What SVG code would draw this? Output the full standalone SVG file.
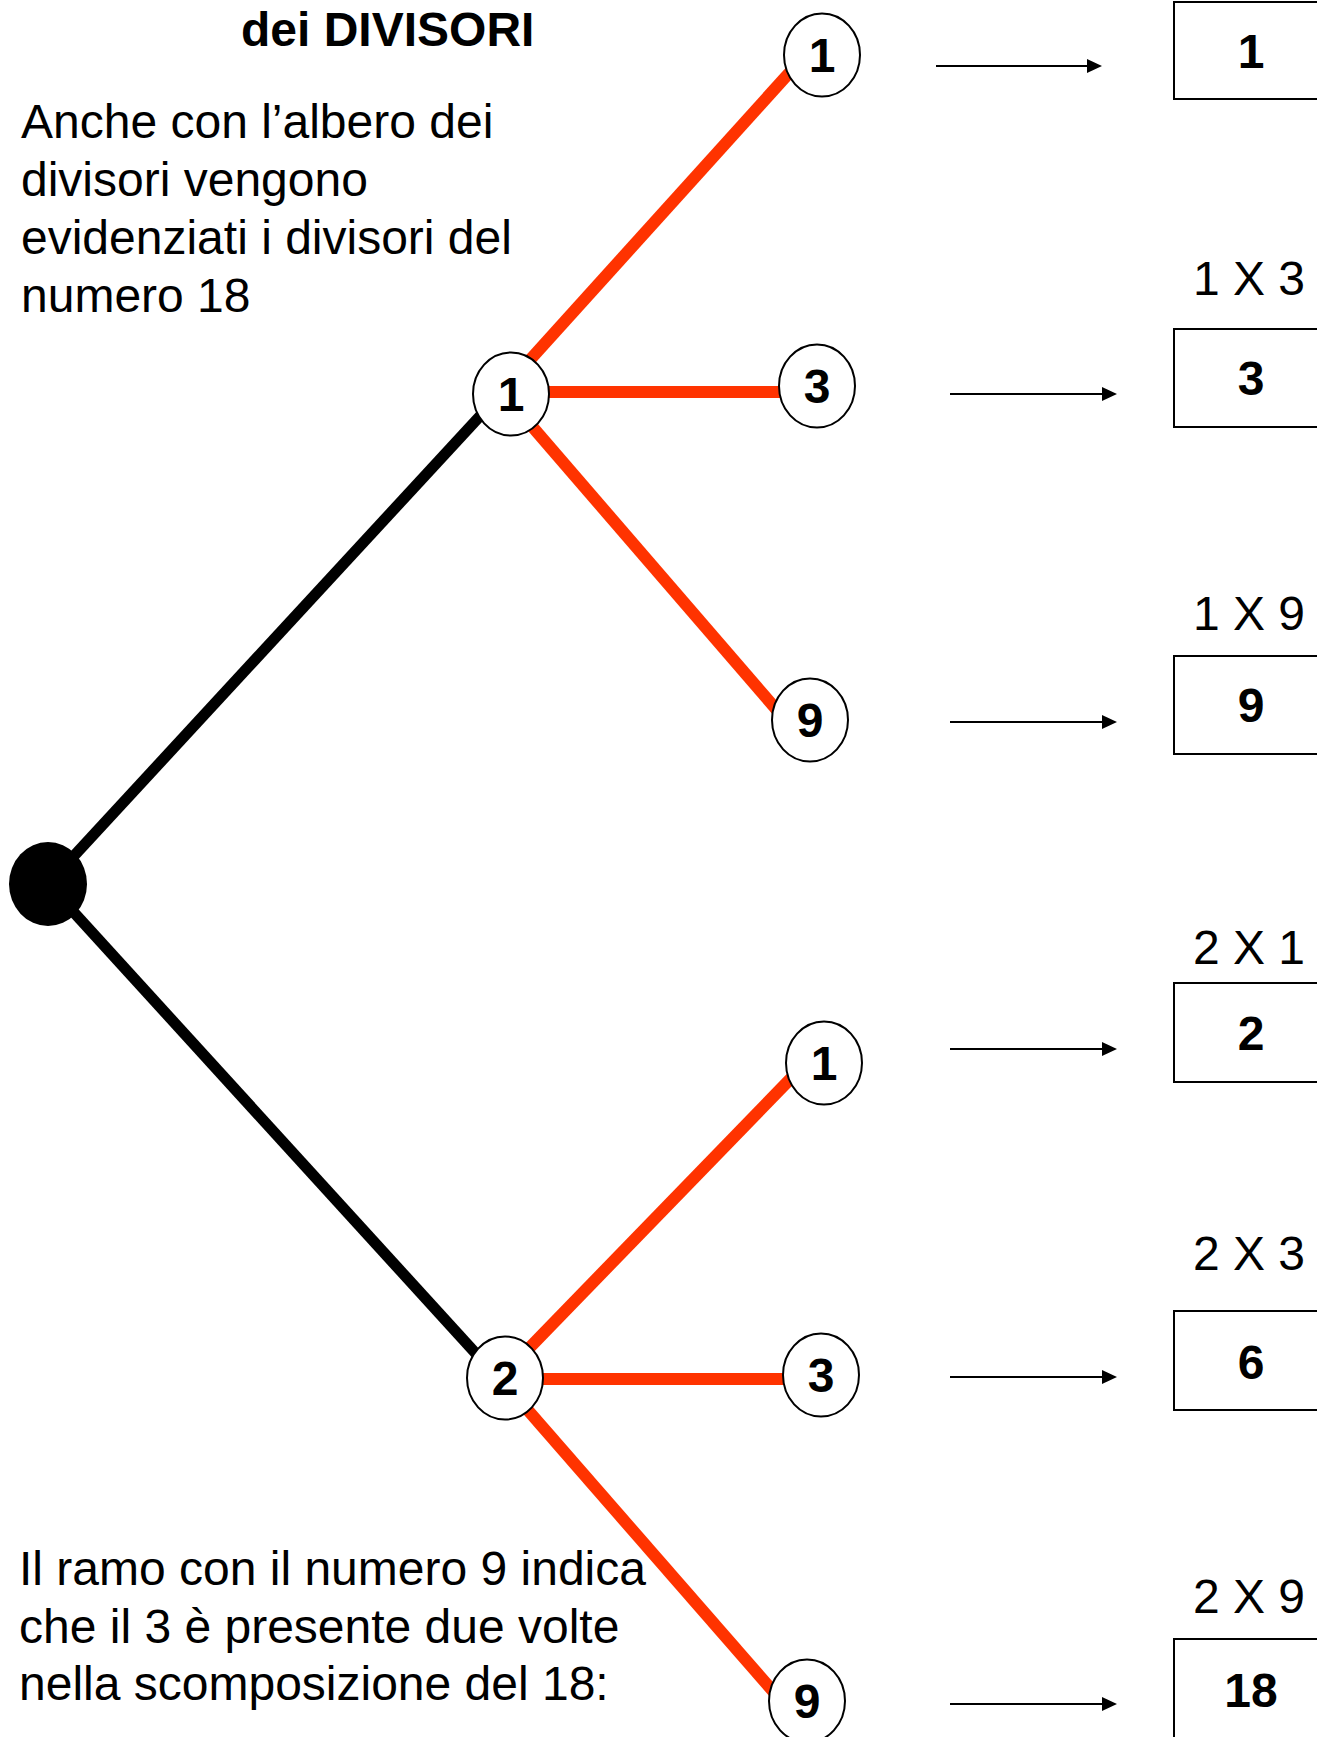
<svg xmlns="http://www.w3.org/2000/svg" width="1317" height="1737" viewBox="0 0 1317 1737">
  <style>
    text { font-family: "Liberation Sans", Arial, sans-serif; fill: #000; }
    .title { font-size: 48px; font-weight: bold; }
    .body { font-size: 48px; }
    .num { font-size: 48px; font-weight: bold; text-anchor: middle; }
    .lbl { font-size: 48px; text-anchor: middle; }
    .node { fill: #fff; stroke: #000; stroke-width: 2; }
    .box { fill: #fff; stroke: #000; stroke-width: 2; }
    .black { stroke: #000; stroke-width: 11; }
    .red { stroke: #FF3300; stroke-width: 12; }
    .arrow { stroke: #000; stroke-width: 2; marker-end: url(#ah); }
  </style>
  <defs>
    <marker id="ah" markerUnits="userSpaceOnUse" markerWidth="16" markerHeight="14" refX="0" refY="7" orient="auto">
      <path d="M0,0 L15,7 L0,14 z" fill="#000"/>
    </marker>
  </defs>
  <rect width="1317" height="1737" fill="#fff"/>

  <g id="texts">
    <text class="title" x="241" y="46">dei DIVISORI</text>
    <text class="body" x="21" y="138">Anche con l’albero dei</text>
    <text class="body" x="21" y="196">divisori vengono</text>
    <text class="body" x="21" y="254">evidenziati i divisori del</text>
    <text class="body" x="21" y="312">numero 18</text>
    <text class="body" x="19" y="1585">Il ramo con il numero 9 indica</text>
    <text class="body" x="19" y="1643">che il 3 è presente due volte</text>
    <text class="body" x="19" y="1700">nella scomposizione del 18:</text>
  </g>

  <g id="connectors">
    <line class="black" x1="48" y1="884" x2="505" y2="389"/>
    <line class="black" x1="48" y1="884" x2="500" y2="1380"/>
    <line class="red" x1="510" y1="382" x2="800" y2="61"/>
    <line class="red" x1="511" y1="392" x2="817" y2="392"/>
    <line class="red" x1="511" y1="402" x2="782" y2="716"/>
    <line class="red" x1="505" y1="1373" x2="800" y2="1069"/>
    <line class="red" x1="505" y1="1379" x2="821" y2="1379"/>
    <line class="red" x1="505" y1="1384" x2="785" y2="1705"/>
    <line class="arrow" x1="936" y1="66" x2="1087" y2="66"/>
    <line class="arrow" x1="950" y1="394" x2="1102" y2="394"/>
    <line class="arrow" x1="950" y1="722" x2="1102" y2="722"/>
    <line class="arrow" x1="950" y1="1049" x2="1102" y2="1049"/>
    <line class="arrow" x1="950" y1="1377" x2="1102" y2="1377"/>
    <line class="arrow" x1="950" y1="1704" x2="1102" y2="1704"/>
  </g>

  <g id="root"><ellipse cx="48" cy="884" rx="39" ry="42" fill="#000"/></g>

  <g id="n1"><ellipse class="node" cx="511" cy="394" rx="38" ry="41.5"/><text class="num" x="511" y="411">1</text></g>
  <g id="n2"><ellipse class="node" cx="505" cy="1378" rx="38" ry="41.5"/><text class="num" x="505" y="1395">2</text></g>

  <g id="n1-1"><ellipse class="node" cx="822" cy="55" rx="38" ry="41.5"/><text class="num" x="822" y="72">1</text></g>
  <g id="n1-3"><ellipse class="node" cx="817" cy="386" rx="38" ry="41.5"/><text class="num" x="817" y="403">3</text></g>
  <g id="n1-9"><ellipse class="node" cx="810" cy="720" rx="38" ry="41.5"/><text class="num" x="810" y="737">9</text></g>
  <g id="n2-1"><ellipse class="node" cx="824" cy="1063" rx="38" ry="41.5"/><text class="num" x="824" y="1080">1</text></g>
  <g id="n2-3"><ellipse class="node" cx="821" cy="1375" rx="38" ry="41.5"/><text class="num" x="821" y="1392">3</text></g>
  <g id="n2-9"><ellipse class="node" cx="807" cy="1701" rx="38" ry="41.5"/><text class="num" x="807" y="1718">9</text></g>

  <g id="box-1"><rect class="box" x="1174" y="2" width="160" height="97"/><text class="num" x="1251" y="68">1</text></g>
  <g id="box-3"><text class="lbl" x="1249" y="295">1 X 3</text><rect class="box" x="1174" y="329" width="160" height="98"/><text class="num" x="1251" y="395">3</text></g>
  <g id="box-9"><text class="lbl" x="1249" y="630">1 X 9</text><rect class="box" x="1174" y="656" width="160" height="98"/><text class="num" x="1251" y="722">9</text></g>
  <g id="box-2"><text class="lbl" x="1249" y="964">2 X 1</text><rect class="box" x="1174" y="983" width="160" height="99"/><text class="num" x="1251" y="1050">2</text></g>
  <g id="box-6"><text class="lbl" x="1249" y="1270">2 X 3</text><rect class="box" x="1174" y="1311" width="160" height="99"/><text class="num" x="1251" y="1379">6</text></g>
  <g id="box-18"><text class="lbl" x="1249" y="1613">2 X 9</text><rect class="box" x="1174" y="1639" width="160" height="110"/><text class="num" x="1251" y="1707">18</text></g>
</svg>
